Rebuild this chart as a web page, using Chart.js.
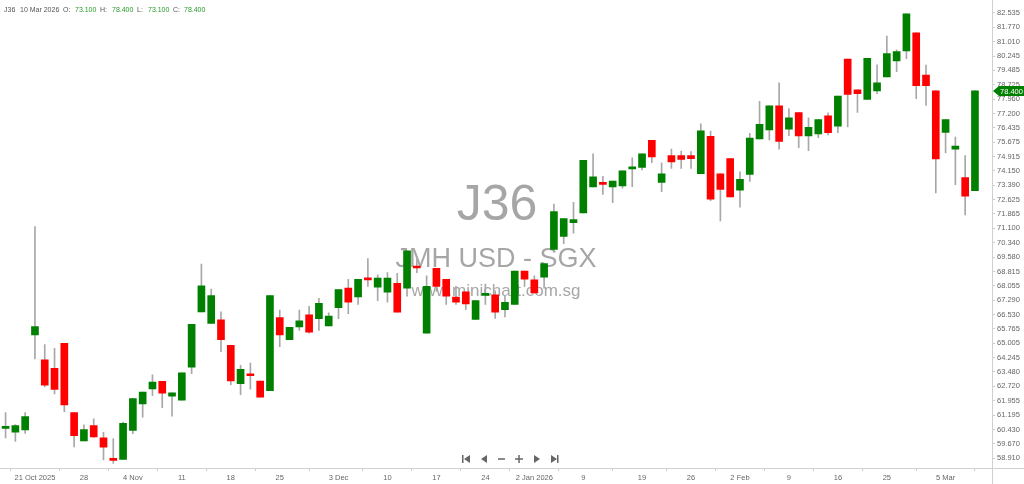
<!DOCTYPE html>
<html><head><meta charset="utf-8">
<script src="https://cdn.jsdelivr.net/npm/chart.js@4/dist/chart.umd.min.js"></script>
<style>html,body{margin:0;padding:0;background:#fff;overflow:hidden}</style>
</head><body>
<canvas id="c" width="1024" height="484" style="display:block;width:1024px;height:484px"></canvas>
<script>
const symbol = "J36";
const instrument = "JMH USD - SGX";
const website = "www.minichart.com.sg";
const lastDate = "10 Mar 2026";

const opens = [
60.49,60.29,60.40,65.45,64.12,63.68,65.00,61.32,59.82,60.64,
59.98,58.84,58.84,60.38,61.78,62.58,62.99,62.20,61.99,63.74,
66.67,66.06,66.25,64.89,62.86,63.35,63.00,62.49,66.37,65.20,
65.87,66.52,66.31,65.92,66.90,67.93,67.47,68.47,67.98,67.71,
68.18,67.93,69.10,65.54,68.98,68.40,67.46,67.74,66.27,67.55,
67.58,66.79,67.06,68.84,68.37,68.51,69.99,70.67,71.41,71.92,
73.30,73.54,73.30,73.35,74.26,74.34,75.77,73.54,74.96,74.97,
74.97,74.00,75.99,74.00,74.80,73.13,73.96,75.85,76.32,77.60,
76.37,77.25,76.01,76.11,77.07,76.52,80.08,78.46,77.95,78.40,
79.14,79.99,80.52,81.48,79.24,78.40,76.20,75.31,73.80,73.10];
const highs = [
61.32,60.69,61.32,71.20,64.93,64.73,65.00,61.32,60.68,60.99,
60.28,59.95,60.82,62.07,62.41,63.33,62.99,62.37,63.44,66.01,
69.21,67.88,66.67,64.89,63.83,63.95,63.00,67.53,66.76,65.85,
66.76,66.97,67.39,66.62,67.86,68.40,68.40,69.50,68.63,68.75,
68.72,69.91,69.45,68.58,68.98,68.40,68.02,67.74,67.27,68.14,
67.79,67.50,68.84,68.84,68.58,69.23,72.39,71.62,72.48,74.71,
75.06,73.87,73.61,74.16,74.84,75.06,75.77,74.58,75.31,75.20,
75.18,76.65,76.27,74.00,74.80,74.10,76.15,77.84,77.60,78.82,
77.46,77.25,76.97,76.88,77.23,78.12,80.08,78.46,80.13,79.78,
81.30,80.57,82.49,81.48,79.77,78.40,76.88,75.94,74.97,78.40];
const lows = [
59.98,59.80,60.22,64.17,62.69,62.32,61.38,59.50,59.82,60.01,
58.82,58.63,58.84,60.21,61.08,62.22,61.59,61.13,61.99,63.39,
66.67,66.06,64.56,62.81,62.28,62.57,62.15,62.49,64.82,65.20,
65.69,65.54,65.69,65.92,66.31,66.57,67.06,68.02,67.27,67.18,
66.66,67.50,68.75,65.54,67.76,67.06,67.06,66.79,66.27,67.06,
66.32,66.40,67.06,68.02,67.67,67.93,69.99,70.29,70.85,71.92,
73.30,72.91,72.46,73.23,73.32,74.21,74.59,73.05,74.28,74.28,
74.28,74.00,72.57,71.50,72.77,72.23,73.59,75.85,75.80,75.31,
76.02,75.39,75.22,75.92,76.06,76.18,76.49,77.25,77.95,78.25,
79.14,79.42,80.11,77.98,77.63,72.98,75.10,73.42,71.81,73.10];
const closes = [
60.59,60.64,61.11,65.89,62.78,62.55,61.73,60.10,60.42,60.03,
59.49,58.79,60.75,62.07,62.41,62.95,62.36,62.37,63.44,66.01,
68.05,67.53,65.19,63.00,63.62,63.28,62.15,67.53,65.45,65.85,
66.19,65.59,67.13,66.45,67.86,67.18,68.40,68.37,68.46,68.47,
66.66,69.91,69.00,68.02,68.02,67.50,67.18,67.09,67.27,67.62,
66.66,67.18,68.84,68.40,67.67,69.23,71.99,71.62,71.57,74.71,
73.84,73.44,73.61,74.16,74.33,75.06,74.90,73.99,74.63,74.76,
74.80,76.28,72.65,73.17,72.77,73.70,75.89,76.62,77.60,75.71,
76.97,76.01,76.46,76.88,76.18,78.12,78.21,78.25,80.13,78.82,
80.38,80.48,82.49,78.68,78.68,74.79,76.88,75.47,72.81,78.40];

const xTickIndex = [3,8,13,18,23,28,34,39,44,49,54,59,65,70,75,80,85,90,96];
const xTickLabels = ["21 Oct 2025","28","4 Nov","11","18","25","3 Dec","10","17","24","2 Jan 2026","9","19","26","2 Feb","9","16","25","5 Mar"];
const yTickLabels = ["82.535","81.770","81.010","80.245","79.485","78.725","77.960","77.200","76.435","75.675","74.915","74.150","73.390","72.625","71.865","71.100","70.340","69.580","68.815","68.055","67.290","66.530","65.765","65.005","64.245","63.480","62.720","61.955","61.195","60.430","59.670","58.910"];

const UP = '#008000', DOWN = '#ff0000', WICK = '#a8a8a8';
const FONT = "'Liberation Sans', Arial, sans-serif";

const bodyData = opens.map((o,i)=>({x:i, y:[o, closes[i]]}));
const wickData = highs.map((h,i)=>({x:i, y:[lows[i], h]}));
const bodyColors = opens.map((o,i)=> closes[i] >= o ? UP : DOWN);
const xLabelMap = {};
xTickIndex.forEach((v,i)=>{ xLabelMap[v] = xTickLabels[i]; });

const overlay = {
  id:'overlay',
  beforeDatasetsDraw(chart){
    const c = chart.ctx;
    c.save();
    c.fillStyle = 'rgba(150,150,150,0.85)';
    c.textAlign = 'center';
    c.textBaseline = 'alphabetic';
    c.font = "50px " + FONT;
    c.fillText(symbol, 497, 220);
    c.font = "27px " + FONT;
    c.fillText(instrument, 496, 267);
    c.font = "17px " + FONT;
    c.fillText(website, 496, 296);
    c.restore();
  },
  afterDraw(chart){
    const c = chart.ctx;
    const y = chart.scales.y;
    c.save();
    c.strokeStyle = '#d0d0d0'; c.lineWidth = 1;
    c.beginPath(); c.moveTo(992.5, 0); c.lineTo(992.5, 484); c.stroke();
    c.beginPath(); c.moveTo(0, 468.5); c.lineTo(1024, 468.5); c.stroke();
    // header
    c.font = "7px " + FONT;
    c.textBaseline = 'middle';
    c.textAlign = 'left';
    const n = closes.length - 1;
    const parts = [
      [symbol, 4, '#555'], [lastDate, 20, '#555'],
      ['O:', 63, '#555'], [opens[n].toFixed(3), 75, '#2a9a2a'],
      ['H:', 100, '#555'], [highs[n].toFixed(3), 112, '#2a9a2a'],
      ['L:', 137, '#555'], [lows[n].toFixed(3), 148, '#2a9a2a'],
      ['C:', 173, '#555'], [closes[n].toFixed(3), 184, '#2a9a2a']
    ];
    parts.forEach(p=>{ c.fillStyle = p[2]; c.fillText(p[0], p[1], 10); });
    // last price tag
    const py = Math.round(y.getPixelForValue(closes[n]));
    c.fillStyle = UP;
    c.beginPath();
    c.moveTo(993, py); c.lineTo(999, py-5); c.lineTo(1024, py-5); c.lineTo(1024, py+5); c.lineTo(999, py+5);
    c.closePath(); c.fill();
    c.fillStyle = '#fff';
    c.font = "7.5px " + FONT;
    c.fillText(closes[n].toFixed(3), 1000, py+0.5);
    // navigation buttons
    c.fillStyle = '#666';
    const cy = 459;
    c.fillRect(462, cy-4, 1.5, 8);
    c.beginPath(); c.moveTo(464, cy); c.lineTo(470, cy-4); c.lineTo(470, cy+4); c.closePath(); c.fill();
    c.beginPath(); c.moveTo(481, cy); c.lineTo(487, cy-4); c.lineTo(487, cy+4); c.closePath(); c.fill();
    c.fillRect(498, cy-0.75, 7, 1.5);
    c.fillRect(515, cy-0.75, 8, 1.5); c.fillRect(518.25, cy-4, 1.5, 8);
    c.beginPath(); c.moveTo(540, cy); c.lineTo(534, cy-4); c.lineTo(534, cy+4); c.closePath(); c.fill();
    c.beginPath(); c.moveTo(557, cy); c.lineTo(551, cy-4); c.lineTo(551, cy+4); c.closePath(); c.fill();
    c.fillRect(557, cy-4, 1.5, 8);
    c.restore();
  }
};

new Chart(document.getElementById('c').getContext('2d'), {
  type: 'bar',
  data: { datasets: [
    { data: bodyData, backgroundColor: bodyColors, barThickness: 7, minBarLength: 2, grouped: false, order: 0, borderWidth: 0 },
    { data: wickData, backgroundColor: WICK, barThickness: 1, grouped: false, order: 1, borderWidth: 0 }
  ]},
  options: {
    responsive: false, animation: false, devicePixelRatio: 1,
    layout: { padding: 0 },
    plugins: { legend: { display: false }, tooltip: { enabled: false } },
    scales: {
      x: {
        type: 'linear', min: -0.57, max: 100.74, offset: false,
        afterBuildTicks: s => { s.ticks = xTickIndex.map(v => ({ value: v })); },
        afterFit: s => { s.height = 16; },
        ticks: { autoSkip: false, maxRotation: 0, minRotation: 0, padding: 2, color: '#666',
                 font: { size: 7.5, family: FONT }, callback: v => xLabelMap[v] ?? '' },
        grid: { drawOnChartArea: false, drawTicks: true, tickLength: 3, color: '#ccc' },
        border: { display: true, color: '#d0d0d0' }
      },
      y: {
        type: 'linear', position: 'right', min: 58.385, max: 82.876,
        afterBuildTicks: s => { s.ticks = yTickLabels.map(t => ({ value: parseFloat(t) })); },
        afterFit: s => { s.width = 32; },
        ticks: { autoSkip: false, padding: 2, color: '#666', font: { size: 7.5, family: FONT },
                 callback: (v, i) => yTickLabels[i] },
        grid: { drawOnChartArea: false, drawTicks: true, tickLength: 3, color: '#ccc' },
        border: { display: true, color: '#d0d0d0' }
      }
    }
  },
  plugins: [overlay]
});
</script>
</body></html>
